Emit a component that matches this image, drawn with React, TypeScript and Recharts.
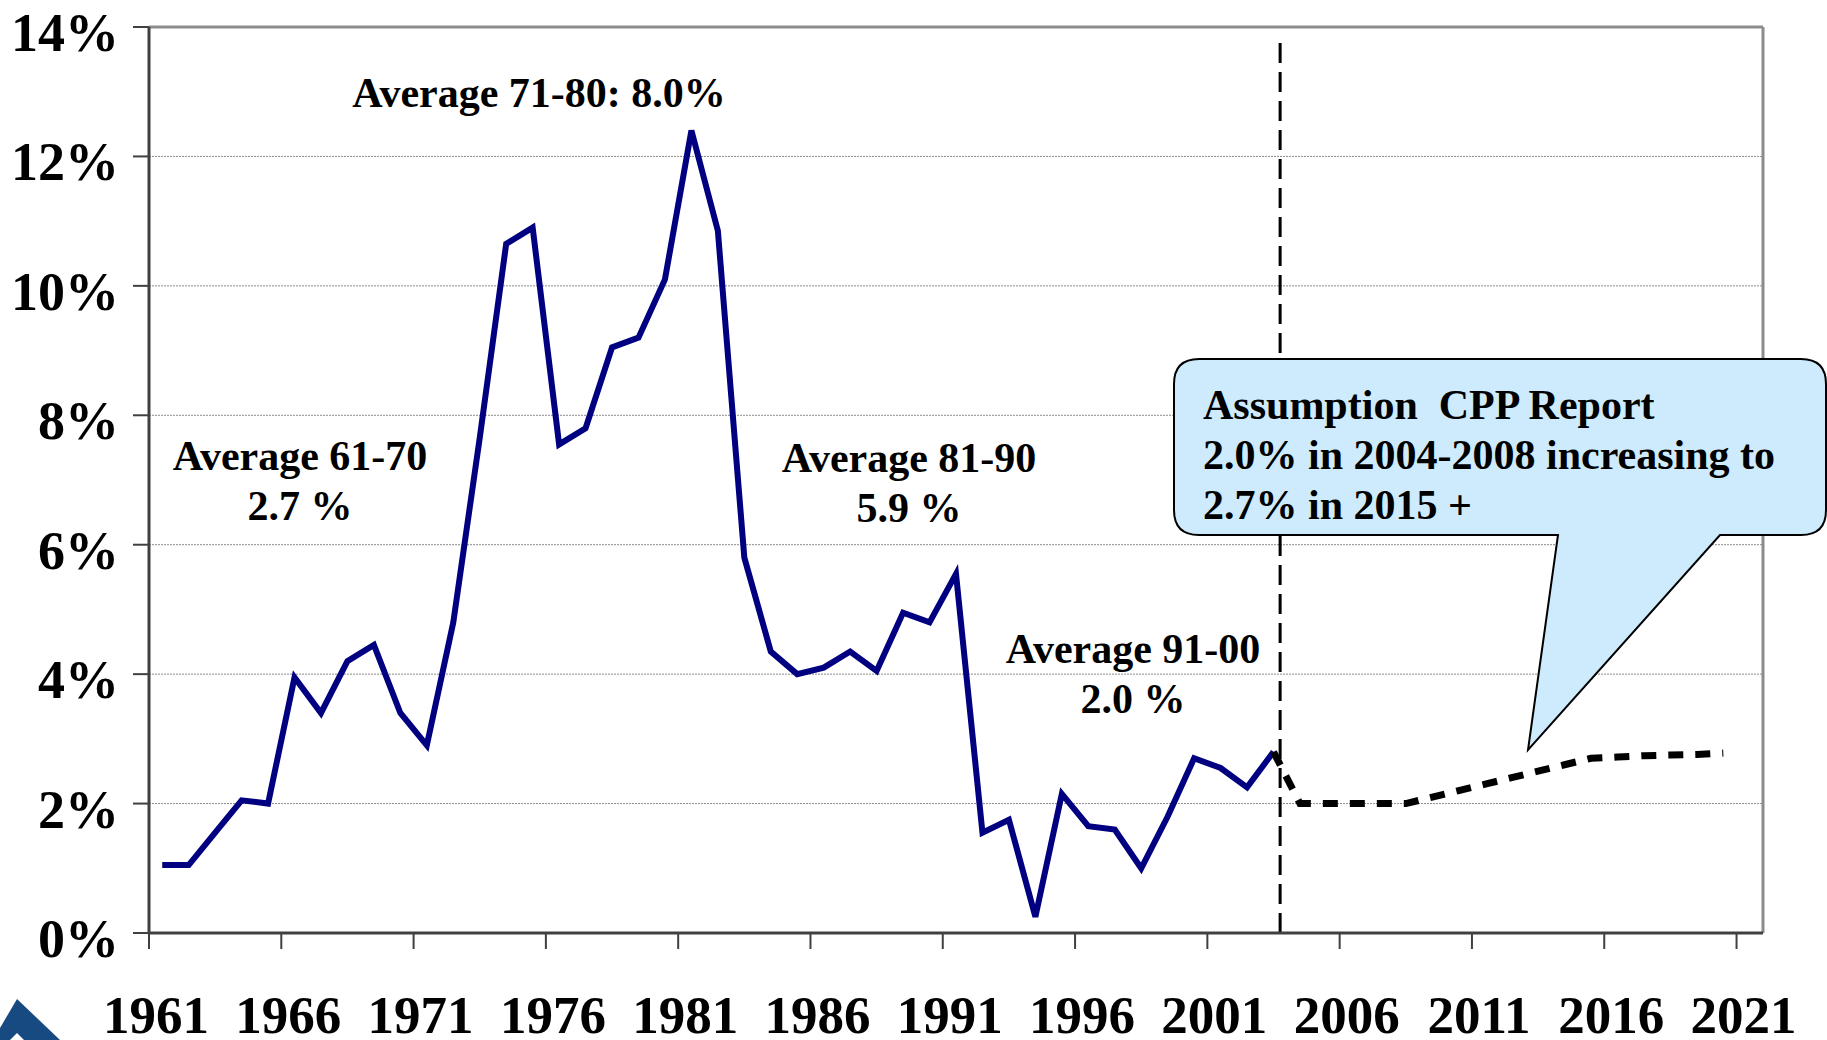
import React from 'react';
import { LineChart, Line, XAxis, YAxis, CartesianGrid, ReferenceLine } from 'recharts';

// inflation rate (%) by year
const firstYear = 1961;
const actualRates = [
  1.05, 1.05, 1.55, 2.05, 2.0, 3.95, 3.4, 4.2, 4.45, 3.4, // 1961-1970
  2.9, 4.8, 7.65, 10.65, 10.9, 7.55, 7.8, 9.05, 9.2, 10.1, // 1971-1980
  12.4, 10.85, 5.8, 4.35, 4.0, 4.1, 4.35, 4.05, 4.95, 4.8, // 1981-1990
  5.55, 1.55, 1.75, 0.25, 2.15, 1.65, 1.6, 1.0, 1.8, 2.7, // 1991-2000
  2.55, 2.25, 2.8, // 2001-2003
];
// CPP report assumption, 2003-2020
const projectionStart = 2003;
const projectionRates = [
  2.8, 2.0, 2.0, 2.0, 2.0, 2.0, 2.1, 2.2, 2.3, 2.4,
  2.5, 2.6, 2.7, 2.72, 2.74, 2.75, 2.76, 2.78,
];
const lastYear = 2021;
const yTicks = [0, 2, 4, 6, 8, 10, 12, 14];
const xTicks = [1960.5, 1965.5, 1970.5, 1975.5, 1980.5, 1985.5, 1990.5, 1995.5, 2000.5, 2005.5, 2010.5, 2015.5, 2020.5];
const cutoffYear = 2003.25;

const averages = [
  { lines: ['Average 61-70', '2.7 %'], x: 300, y: 470 },
  { lines: ['Average 71-80: 8.0%'], x: 539, y: 107 },
  { lines: ['Average 81-90', '5.9 %'], x: 909, y: 472 },
  { lines: ['Average 91-00', '2.0 %'], x: 1133, y: 663 },
];
const calloutLines = ['Assumption  CPP Report', '2.0% in 2004-2008 increasing to', '2.7% in 2015 +'];

const FONT = "'Liberation Serif', 'Times New Roman', serif";

const rows: { year: number; actual: number | null; projection: number | null }[] = [];
for (let y = firstYear; y <= lastYear; y++) {
  const a = actualRates[y - firstYear];
  const p = projectionRates[y - projectionStart];
  rows.push({ year: y, actual: a === undefined ? null : a, projection: p === undefined ? null : p });
}

const YTick = (props: any) => (
  <text x={props.x} y={props.payload.coordinate + 24} textAnchor="end" fontFamily={FONT} fontWeight="bold" fontSize={54} fill="#000">
    {props.payload.value}%
  </text>
);

const XTick = (props: any) => (
  <text x={props.payload.coordinate + 7} y={1033} textAnchor="middle" fontFamily={FONT} fontWeight="bold" fontSize={53} fill="#000">
    {Math.round(props.payload.value + 0.5)}
  </text>
);

const App = () => {
  return (
    <div style={{ position: 'absolute', left: 0, top: 0, width: 1827, height: 1040, background: '#fff' }}>
      <LineChart width={1827} height={1040} data={rows} margin={{ top: 27, right: 64, left: 0, bottom: 0 }}>
        <CartesianGrid vertical={false} stroke="#8a8a8a" strokeDasharray="2 1" />
        <XAxis
          dataKey="year"
          type="number"
          domain={[1960.5, 2021.5]}
          ticks={xTicks}
          height={107}
          tickSize={16}
          tickMargin={0}
          tick={<XTick />}
          axisLine={{ stroke: '#404040', strokeWidth: 3 }}
          tickLine={{ stroke: '#404040', strokeWidth: 2 }}
        />
        <YAxis
          domain={[0, 14]}
          ticks={yTicks}
          width={149}
          tickSize={16}
          tickMargin={14}
          tick={<YTick />}
          axisLine={{ stroke: '#404040', strokeWidth: 3 }}
          tickLine={{ stroke: '#404040', strokeWidth: 2 }}
        />
        <ReferenceLine y={14} stroke="#8c8c8c" strokeWidth={3} />
        <ReferenceLine x={2021.5} stroke="#8c8c8c" strokeWidth={3} />
        <ReferenceLine
          segment={[{ x: cutoffYear, y: 0 }, { x: cutoffYear, y: 13.85 }]}
          stroke="#000"
          strokeWidth={3}
          strokeDasharray="20 9"
        />
        <Line dataKey="actual" type="linear" stroke="#000080" strokeWidth={6} dot={false} isAnimationActive={false} />
        <Line
          dataKey="projection"
          type="linear"
          stroke="#000"
          strokeWidth={7}
          strokeDasharray="15 12"
          dot={false}
          isAnimationActive={false}
        />
      </LineChart>
      <svg width={1827} height={1040} style={{ position: 'absolute', left: 0, top: 0, pointerEvents: 'none' }}>
        {averages.map((a, i) => (
          <text key={i} x={a.x} y={a.y} textAnchor="middle" fontFamily={FONT} fontWeight="bold" fontSize={42} fill="#000">
            {a.lines.map((l, j) => (
              <tspan key={j} x={a.x} dy={j === 0 ? 0 : 50}>{l}</tspan>
            ))}
          </text>
        ))}
        <path
          d="M 1199 359 H 1801 Q 1826 359 1826 384 V 510 Q 1826 535 1801 535 H 1720 L 1528 750 L 1558 535 H 1199 Q 1174 535 1174 510 V 384 Q 1174 359 1199 359 Z"
          fill="#cdebfc"
          stroke="#000"
          strokeWidth={2}
        />
        <text x={1203} y={419} fontFamily={FONT} fontWeight="bold" fontSize={42} fill="#000" style={{ whiteSpace: 'pre' }}>
          {calloutLines.map((l, j) => (
            <tspan key={j} x={1203} dy={j === 0 ? 0 : 50}>{l}</tspan>
          ))}
        </text>
        <polygon points="0,1028 17,999 60,1040 0,1040" fill="#164a80" />
        <polygon points="10,1040 17,1033 24,1040" fill="#fff" />
      </svg>
    </div>
  );
};

export default App;
